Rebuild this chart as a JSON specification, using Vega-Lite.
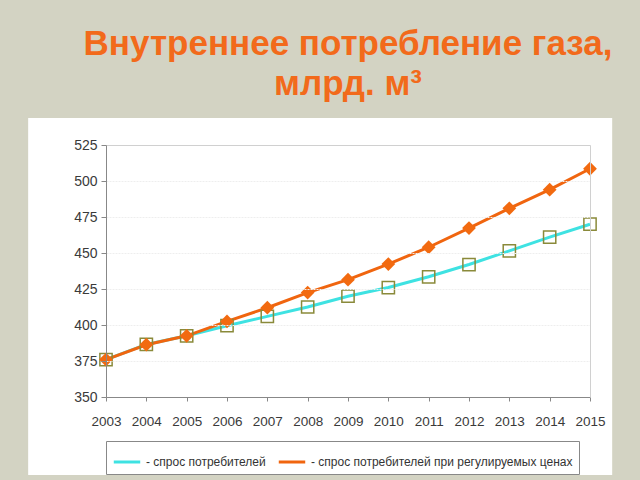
{
  "$schema": "https://vega.github.io/schema/vega-lite/v6.json",
  "width": 484,
  "height": 252,
  "autosize": {"type": "none"},
  "padding": {"left": 106, "top": 145, "right": 50, "bottom": 83},
  "background": "#D3D3C3",
  "title": {
    "text": ["Внутреннее потребление газа,", "млрд. м³"],
    "font": "Liberation Sans",
    "fontSize": 35,
    "fontWeight": "bold",
    "color": "#F26A1B",
    "lineHeight": 40,
    "anchor": "middle",
    "frame": "group",
    "offset": 16
  },
  "config": {
    "view": {"stroke": null, "fill": null},
    "font": "Liberation Sans",
    "axis": {
      "labelFont": "Liberation Sans",
      "labelFontSize": 14,
      "labelColor": "#3a3a3a",
      "domainColor": "#888888",
      "tickColor": "#888888",
      "tickSize": 5,
      "labelFlush": false,
      "labelOverlap": false,
      "title": null
    }
  },
  "resolve": {"axis": {"x": "independent", "y": "independent"}},
  "datasets": {
    "gas": [
      {"year": 2003, "series": "- спрос потребителей", "value": 376},
      {"year": 2004, "series": "- спрос потребителей", "value": 386.5},
      {"year": 2005, "series": "- спрос потребителей", "value": 392.5},
      {"year": 2006, "series": "- спрос потребителей", "value": 399.5},
      {"year": 2007, "series": "- спрос потребителей", "value": 406},
      {"year": 2008, "series": "- спрос потребителей", "value": 412.5},
      {"year": 2009, "series": "- спрос потребителей", "value": 420},
      {"year": 2010, "series": "- спрос потребителей", "value": 426},
      {"year": 2011, "series": "- спрос потребителей", "value": 433.5},
      {"year": 2012, "series": "- спрос потребителей", "value": 442},
      {"year": 2013, "series": "- спрос потребителей", "value": 451.5},
      {"year": 2014, "series": "- спрос потребителей", "value": 461},
      {"year": 2015, "series": "- спрос потребителей", "value": 470},
      {"year": 2003, "series": "- спрос потребителей при регулируемых ценах", "value": 376},
      {"year": 2004, "series": "- спрос потребителей при регулируемых ценах", "value": 386.3},
      {"year": 2005, "series": "- спрос потребителей при регулируемых ценах", "value": 392.5},
      {"year": 2006, "series": "- спрос потребителей при регулируемых ценах", "value": 402.5},
      {"year": 2007, "series": "- спрос потребителей при регулируемых ценах", "value": 412},
      {"year": 2008, "series": "- спрос потребителей при регулируемых ценах", "value": 422.5},
      {"year": 2009, "series": "- спрос потребителей при регулируемых ценах", "value": 431.5},
      {"year": 2010, "series": "- спрос потребителей при регулируемых ценах", "value": 442.3},
      {"year": 2011, "series": "- спрос потребителей при регулируемых ценах", "value": 454},
      {"year": 2012, "series": "- спрос потребителей при регулируемых ценах", "value": 467.3},
      {"year": 2013, "series": "- спрос потребителей при регулируемых ценах", "value": 481},
      {"year": 2014, "series": "- спрос потребителей при регулируемых ценах", "value": 494},
      {"year": 2015, "series": "- спрос потребителей при регулируемых ценах", "value": 508.5}
    ]
  },
  "layer": [
    {
      "data": {"values": [{}]},
      "mark": {"type": "rect", "color": "white", "clip": false, "zindex": 0},
      "encoding": {
        "x": {"datum": 2001.07, "type": "quantitative", "scale": {"domain": [2003, 2015], "nice": false, "zero": false},
              "axis": {"orient": "top", "labels": false, "ticks": false, "grid": false, "domainColor": "#d0d0d0", "title": null, "zindex": 2}},
        "x2": {"datum": 2015.55},
        "y": {"datum": 543.75, "type": "quantitative", "scale": {"domain": [350, 525], "nice": false, "zero": false},
              "axis": {"orient": "right", "labels": false, "ticks": false, "grid": false, "domainColor": "#d0d0d0", "title": null, "zindex": 2}},
        "y2": {"datum": 295.8}
      }
    },
    {
      "data": {"name": "gas"},
      "mark": {"type": "line", "strokeWidth": 3, "zindex": 3},
      "encoding": {
        "x": {
          "field": "year", "type": "quantitative",
          "scale": {"domain": [2003, 2015], "nice": false, "zero": false},
          "axis": {"orient": "bottom", "values": [2003, 2004, 2005, 2006, 2007, 2008, 2009, 2010, 2011, 2012, 2013, 2014, 2015], "format": "d", "grid": false, "tickSize": 4, "labelPadding": 13, "labelFontSize": 13.5, "zindex": 2}
        },
        "y": {
          "field": "value", "type": "quantitative",
          "scale": {"domain": [350, 525], "nice": false, "zero": false},
          "axis": {"orient": "left", "values": [350, 375, 400, 425, 450, 475, 500, 525], "grid": true, "gridColor": "#eeeeee", "gridDash": [2, 1], "labelPadding": 4, "zindex": 2}
        },
        "color": {
          "field": "series", "type": "nominal",
          "scale": {
            "domain": ["- спрос потребителей", "- спрос потребителей при регулируемых ценах"],
            "range": ["#3EE2E2", "#F0650F"]
          },
          "legend": {
            "title": null,
            "orient": "bottom",
            "direction": "horizontal",
            "offset": 13,
            "symbolType": "stroke",
            "symbolSize": 700,
            "symbolStrokeWidth": 3,
            "labelFont": "Liberation Sans",
            "labelFontSize": 12,
            "labelColor": "#333333",
            "labelLimit": 400,
            "strokeColor": "#888888",
            "padding": 6,
            "columnPadding": 6,
            "labelOffset": 4
          }
        }
      }
    },
    {
      "data": {"name": "gas"},
      "transform": [{"filter": "datum.series === '- спрос потребителей'"}],
      "mark": {"type": "point", "shape": "square", "filled": false, "stroke": "#8A8A3A", "strokeWidth": 1.5, "size": 150, "opacity": 1, "zindex": 4},
      "encoding": {
        "x": {"field": "year", "type": "quantitative", "axis": null},
        "y": {"field": "value", "type": "quantitative", "axis": null}
      }
    },
    {
      "data": {"name": "gas"},
      "transform": [{"filter": "datum.series !== '- спрос потребителей'"}],
      "mark": {"type": "point", "shape": "diamond", "filled": true, "color": "#F26A10", "size": 190, "opacity": 1, "zindex": 5},
      "encoding": {
        "x": {"field": "year", "type": "quantitative", "axis": null},
        "y": {"field": "value", "type": "quantitative", "axis": null}
      }
    }
  ]
}
